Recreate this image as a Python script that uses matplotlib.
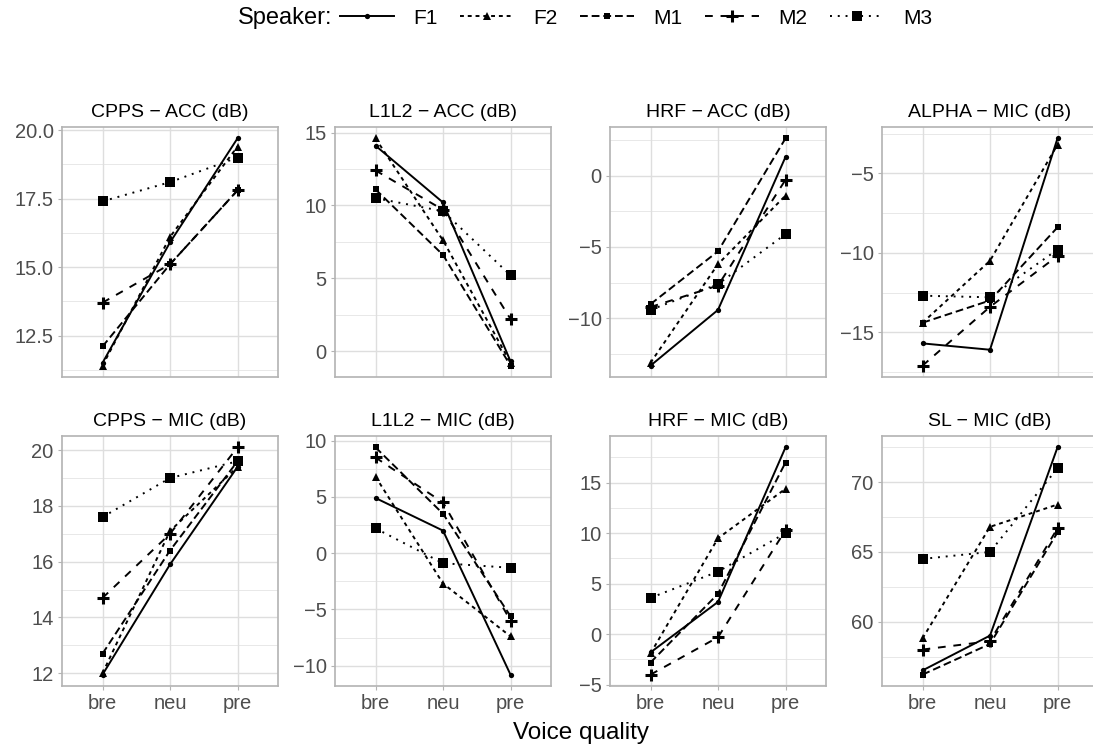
import numpy as np
import matplotlib
matplotlib.use("Agg")
import matplotlib.pyplot as plt
from matplotlib.lines import Line2D

plt.rcParams['font.family'] = ['Liberation Sans', 'DejaVu Sans']
plt.rcParams['axes.unicode_minus'] = True

# ---- data ----
quality = ["bre", "neu", "pre"]
speakers = ["F1", "F2", "M1", "M2", "M3"]

titles = ["CPPS \u2212 ACC (dB)", "L1L2 \u2212 ACC (dB)", "HRF \u2212 ACC (dB)", "ALPHA \u2212 MIC (dB)",
          "CPPS \u2212 MIC (dB)", "L1L2 \u2212 MIC (dB)", "HRF \u2212 MIC (dB)", "SL \u2212 MIC (dB)"]

cpps_acc = {"F1": [11.5, 15.9, 19.7], "F2": [11.4, 16.1, 19.4], "M1": [12.1, 15.1, 17.8],
            "M2": [13.7, 15.1, 17.8], "M3": [17.4, 18.1, 19.0]}
l1l2_acc = {"F1": [14.1, 10.2, -0.7], "F2": [14.6, 7.6, -0.8], "M1": [11.1, 6.6, -1.0],
            "M2": [12.4, 9.7, 2.2], "M3": [10.5, 9.6, 5.2]}
hrf_acc = {"F1": [-13.3, -9.4, 1.3], "F2": [-13.1, -6.2, -1.4], "M1": [-9.0, -5.3, 2.6],
           "M2": [-9.2, -7.7, -0.3], "M3": [-9.4, -7.6, -4.1]}
alpha_mic = {"F1": [-15.7, -16.1, -2.8], "F2": [-14.4, -10.5, -3.2], "M1": [-14.4, -13.0, -8.4],
             "M2": [-17.1, -13.4, -10.2], "M3": [-12.7, -12.8, -9.8]}
cpps_mic = {"F1": [11.95, 15.9, 19.4], "F2": [12.0, 17.1, 19.4], "M1": [12.7, 16.4, 19.6],
            "M2": [14.7, 17.0, 20.1], "M3": [17.6, 19.0, 19.6]}
l1l2_mic = {"F1": [4.9, 2.0, -10.8], "F2": [6.8, -2.7, -7.4], "M1": [9.4, 3.5, -5.6],
            "M2": [8.5, 4.5, -6.0], "M3": [2.2, -0.9, -1.3]}
hrf_mic = {"F1": [-1.8, 3.2, 18.5], "F2": [-1.9, 9.5, 14.4], "M1": [-2.8, 4.0, 17.0],
           "M2": [-4.0, -0.3, 10.3], "M3": [3.6, 6.2, 10.0]}
sl_mic = {"F1": [56.5, 59.0, 72.5], "F2": [58.8, 66.8, 68.4], "M1": [56.2, 58.4, 66.4],
          "M2": [58.0, 58.6, 66.7], "M3": [64.5, 65.0, 71.0]}

panels = [cpps_acc, l1l2_acc, hrf_acc, alpha_mic, cpps_mic, l1l2_mic, hrf_mic, sl_mic]

yticks = [[12.5, 15.0, 17.5, 20.0], [0, 5, 10, 15], [-10, -5, 0], [-15, -10, -5],
          [12, 14, 16, 18, 20], [-10, -5, 0, 5, 10], [-5, 0, 5, 10, 15], [60, 65, 70]]
yfmt = ["%.1f", "%d", "%d", "%d", "%d", "%d", "%d", "%d"]

# ---- styles ----
u = 1.0
lw = 1.4
styles = {
    "F1": dict(ls="-", marker="o", ms=3.8, mew=0),
    "F2": dict(ls=(0, (2 * u, 2 * u)), marker="^", ms=5.5, mew=0),
    "M1": dict(ls=(0, (4 * u, 2 * u)), marker="s", ms=4.8, mew=0),
    "M2": dict(ls=(0, (4 * u, 4 * u)), marker="+", ms=8, mew=2.2),
    "M3": dict(ls=(0, (1 * u, 3 * u)), marker="s", ms=7, mew=0),
}

W, H = 1093, 746
fig = plt.figure(figsize=(W / 100, H / 100), dpi=100)

col_left = [62, 335, 610, 882]
panel_w = 216
row_top = [127, 436]
panel_h = 250

grid_c = "#DEDEDE"
border_c = "#B3B3B3"
tick_c = "#4D4D4D"

x = np.arange(len(quality))

for i, data in enumerate(panels):
    r, c = divmod(i, 4)
    ax = fig.add_axes([col_left[c] / W, 1 - (row_top[r] + panel_h) / H, panel_w / W, panel_h / H])
    allv = np.concatenate([data[s] for s in speakers])
    lo, hi = allv.min(), allv.max()
    pad = 0.05 * (hi - lo)
    ax.set_ylim(lo - pad, hi + pad)
    ax.set_xlim(-0.6, 2.6)

    # grid
    maj = yticks[i]
    step = maj[1] - maj[0]
    minors = [m + step / 2 for m in [maj[0] - step] + list(maj)]
    for m in minors:
        if lo - pad < m < hi + pad:
            ax.axhline(m, color=grid_c, lw=0.5, zorder=0)
    for m in maj:
        ax.axhline(m, color=grid_c, lw=1.0, zorder=0)
    for xv in x:
        ax.axvline(xv, color=grid_c, lw=1.0, zorder=0)

    for s in speakers:
        st = styles[s]
        ax.plot(x, data[s], color="black", lw=lw, linestyle=st["ls"], marker=st["marker"],
                ms=st["ms"], mew=st["mew"], mec="black", mfc="black", zorder=3)

    ax.set_yticks(maj)
    ax.set_yticklabels([(yfmt[i] % v).replace("-", "\u2212") for v in maj])
    ax.set_xticks(x)
    if r == 1:
        ax.set_xticklabels(quality)
        ax.tick_params(axis="x", length=3, color=border_c, labelcolor=tick_c, labelsize=14.5, pad=3)
    else:
        ax.set_xticklabels([])
        ax.tick_params(axis="x", length=0)
    ax.tick_params(axis="y", length=3, color=border_c, labelcolor=tick_c, labelsize=14.5, pad=3)
    for sp in ax.spines.values():
        sp.set_color(border_c)
        sp.set_linewidth(1.2)
    ax.set_title(titles[i], fontsize=14, color="black", pad=7)

fig.text(581 / W, 1 - 733 / H, "Voice quality", ha="center", va="center", fontsize=17.5)

handles = [Line2D([], [], color="black", lw=lw, linestyle=styles[s]["ls"], marker=styles[s]["marker"],
                  ms=styles[s]["ms"], mew=styles[s]["mew"]) for s in speakers]
fig.text(332 / W, 1 - 18 / H, "Speaker:", ha="right", va="center", fontsize=17)
fig.legend(handles, speakers, ncol=5, loc="center left", bbox_to_anchor=(340 / W, 1 - 18 / H),
           frameon=False, fontsize=15, handlelength=2.6, handletextpad=0.9, columnspacing=1.1,
           borderpad=0, borderaxespad=0)

fig.savefig("out.png", dpi=100)
